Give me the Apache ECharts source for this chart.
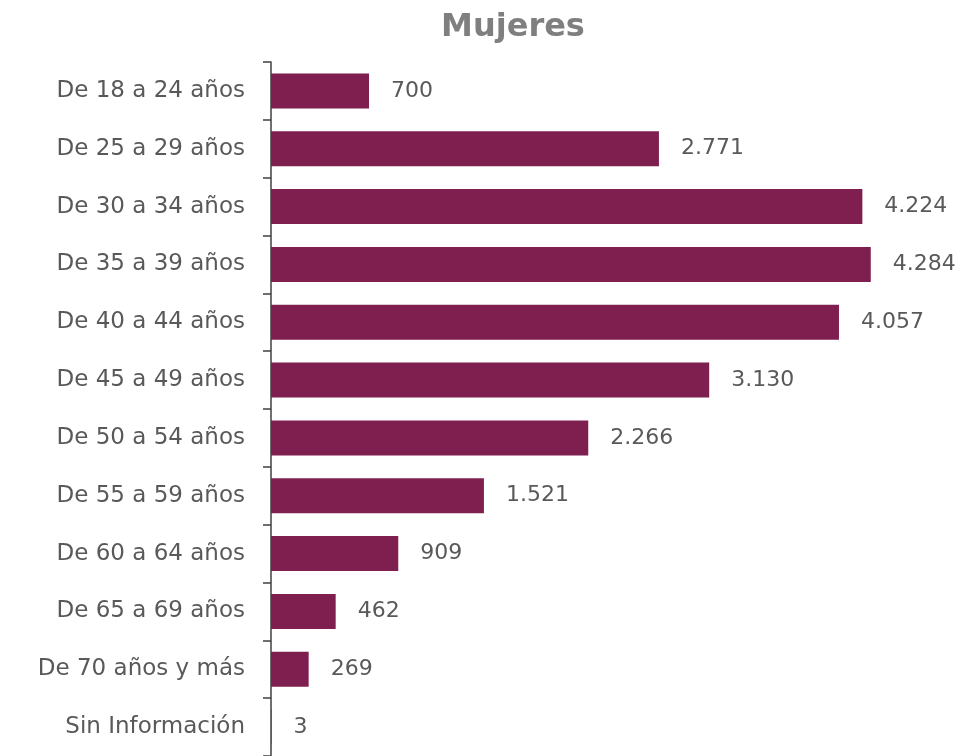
<!DOCTYPE html>
<html><head><meta charset="utf-8">
<script src="https://cdn.jsdelivr.net/npm/echarts@6/dist/echarts.min.js"></script>
<style>html,body{margin:0;padding:0;background:#fff}#c{width:964px;height:756px}</style>
</head><body><div id="c"></div>
<script>
const categories = ["De 18 a 24 años","De 25 a 29 años","De 30 a 34 años","De 35 a 39 años","De 40 a 44 años","De 45 a 49 años","De 50 a 54 años","De 55 a 59 años","De 60 a 64 años","De 65 a 69 años","De 70 años y más","Sin Información"];
const values = [700,2771,4224,4284,4057,3130,2266,1521,909,462,269,3];
const titleText = "Mujeres";
const FONT = "DejaVu Sans";
function fmt(v){return String(v).replace(/\B(?=(\d{3})+(?!\d))/g,'.');}
const chart = echarts.init(document.getElementById('c'));
chart.setOption({
  animation:false,
  title:{text:titleText,left:508,top:7,textAlign:'center',textStyle:{fontFamily:FONT,fontSize:32,fontWeight:'bold',color:'#7f7f7f'}},
  grid:{left:271,top:62,width:630,height:698},
  xAxis:{type:'value',min:0,max:4500,show:false},
  yAxis:{type:'category',data:categories,inverse:true,
    axisLine:{lineStyle:{color:'#404040',width:1.5}},
    axisTick:{show:true,length:8,lineStyle:{color:'#404040',width:1.5}},
    axisLabel:{fontFamily:FONT,fontSize:23,color:'#595959',margin:26}},
  series:[{type:'bar',data:values,barWidth:35,
    itemStyle:{color:'#7f1f50'},
    label:{show:true,position:'right',distance:22,fontFamily:FONT,fontSize:22,color:'#595959',formatter:p=>fmt(p.value)}}]
});
</script></body></html>
